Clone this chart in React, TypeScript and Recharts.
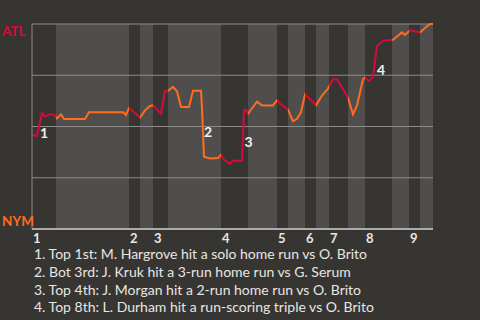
import { LineChart, Line, XAxis, YAxis, ReferenceArea, ReferenceLine, ReferenceDot } from "recharts";

// x = pitch count through the game, y = ATL win probability (%)
const pitch = [
  0, 5, 10, 13, 18, 22, 25, 29, 32, 53, 57, 91, 94, 97, 108, 113, 118, 121, 129, 133,
  136, 141, 145, 149, 157, 161, 169, 170, 172, 178, 186, 189, 192, 198, 201, 210, 212, 214, 216, 221,
  225, 230, 241, 245, 248, 256, 261, 265, 269, 273, 278, 284, 290, 296, 301, 305, 316, 321, 325, 331,
  333, 337, 341, 345, 351, 361, 365, 370, 373, 378, 388, 393, 398, 401,
];
const atlWinPct = [
  46, 45.4, 56.5, 54.9, 56, 55.7, 53.9, 55.9, 53.6, 53.6, 57, 57, 55.6, 59, 54.4, 57.9, 60, 60.3, 56.2, 67.4,
  67.4, 69.3, 67.2, 59.5, 59.5, 67.4, 67.4, 59.2, 35.3, 34.4, 34.6, 36.2, 33.8, 31.8, 33.3, 33.3, 57.9, 58.2, 56.2, 59.5,
  62.1, 60.3, 60.3, 62.8, 61.2, 58.2, 52.5, 53.8, 57, 65.7, 63.4, 60.3, 65.1, 68.5, 73, 73, 64.1, 55.9, 60.3, 73,
  73.9, 72.1, 74.3, 89.3, 91.9, 92.3, 93.9, 95.9, 94.7, 96.9, 95.9, 98, 100, 100,
];

// where each half inning starts (top 1st, bot 1st, top 2nd, ...)
const halfInningStarts = [0, 24, 97, 108, 121, 136, 189, 216, 245, 256, 273, 284, 297, 316, 333, 360, 377, 388];
const gameEnd = 401;

const inningTicks = [0, 97, 121, 189, 245, 273, 297, 333, 377];
const inningLabels = ["1", "2", "3", "4", "5", "6", "7", "8", "9"];
const gridValues = [25, 50, 75, 100];

const eventNumbers = ["1", "2", "3", "4"];
const eventPitch = [12, 176, 216.5, 349];
const eventPct = [47, 47.5, 42.5, 77.5];
const eventNotes = [
  "1. Top 1st: M. Hargrove hit a solo home run vs O. Brito",
  "2. Bot 3rd: J. Kruk hit a 3-run home run vs G. Serum",
  "3. Top 4th: J. Morgan hit a 2-run home run vs O. Brito",
  "4. Top 8th: L. Durham hit a run-scoring triple vs O. Brito",
];

const BG = "#373532";
const BAND = "#4f4e4c";
const GRID = "#8d8b88";
const AXIS = "#d2d0cc";
const TEXT = "#e8e6e3";
const ATL_RED = "#d50a3c";
const NYM_ORANGE = "#ff6b1f";
const FONT = "Lato, 'Open Sans', sans-serif";

const chartData = pitch.map((p, i) => ({ pitch: p, pct: atlWinPct[i] }));

const InningTick = (props: any) => {
  const { x, y, payload } = props;
  const idx = inningTicks.indexOf(payload.value);
  return (
    <text x={x + 1} y={y} dy={6} textAnchor="start" fill={TEXT} fontSize={13} fontWeight={700} fontFamily={FONT}>
      {inningLabels[idx]}
    </text>
  );
};

const TeamTick = (props: any) => {
  const { y, payload } = props;
  const top = payload.value === 100;
  return (
    <text x={2} y={y} dy={top ? 12 : -3} textAnchor="start" fill={top ? ATL_RED : NYM_ORANGE}
      fontSize={13.5} fontWeight={700} fontFamily={FONT}>
      {top ? "ATL" : "NYM"}
    </text>
  );
};

export default function App() {
  return (
    <div style={{ position: "fixed", top: 0, left: 0, width: 480, height: 320, background: BG, overflow: "hidden" }}>
      <LineChart width={480} height={245} data={chartData} margin={{ top: 24, right: 47, bottom: 0, left: 0 }}>
        <defs>
          <linearGradient id="halfColor" x1="0" y1="0" x2="1" y2="0">
            {halfInningStarts.flatMap((s, i) => {
              const e = i + 1 < halfInningStarts.length ? halfInningStarts[i + 1] : gameEnd;
              const c = i % 2 === 0 ? ATL_RED : NYM_ORANGE;
              return [
                <stop key={`a${i}`} offset={s / gameEnd} stopColor={c} />,
                <stop key={`b${i}`} offset={e / gameEnd} stopColor={c} />,
              ];
            })}
          </linearGradient>
        </defs>
        {halfInningStarts.map((s, i) => (
          <ReferenceArea key={s} x1={s} x2={i + 1 < halfInningStarts.length ? halfInningStarts[i + 1] : gameEnd}
            y1={0} y2={100} fill={i % 2 === 0 ? BG : BAND} fillOpacity={1} stroke="none" />
        ))}
        {gridValues.map(v => (
          <ReferenceLine key={v} y={v} stroke={GRID} strokeWidth={1} />
        ))}
        <XAxis type="number" dataKey="pitch" domain={[0, gameEnd]} ticks={inningTicks} interval={0}
          tickLine={false} axisLine={{ stroke: AXIS, strokeWidth: 1.5 }} height={16} tick={<InningTick />} />
        <YAxis type="number" domain={[0, 100]} ticks={[0, 100]} width={32} tickLine={false}
          axisLine={{ stroke: GRID }} tick={<TeamTick />} />
        <Line type="linear" dataKey="pct" stroke="url(#halfColor)" strokeWidth={2} dot={false}
          activeDot={false} isAnimationActive={false} />
        {eventNumbers.map((n, i) => (
          <ReferenceDot key={n} x={eventPitch[i]} y={eventPct[i]} r={0} stroke="none"
            label={{ value: n, position: "center", fill: "#f2f0ee", fontSize: 14, fontWeight: 700, fontFamily: FONT }} />
        ))}
      </LineChart>
      <div style={{ position: "absolute", left: 34, top: 245, fontFamily: FONT, fontSize: 14, lineHeight: "17.8px", color: TEXT }}>
        {eventNotes.map(t => (
          <div key={t}>{t}</div>
        ))}
      </div>
    </div>
  );
}
